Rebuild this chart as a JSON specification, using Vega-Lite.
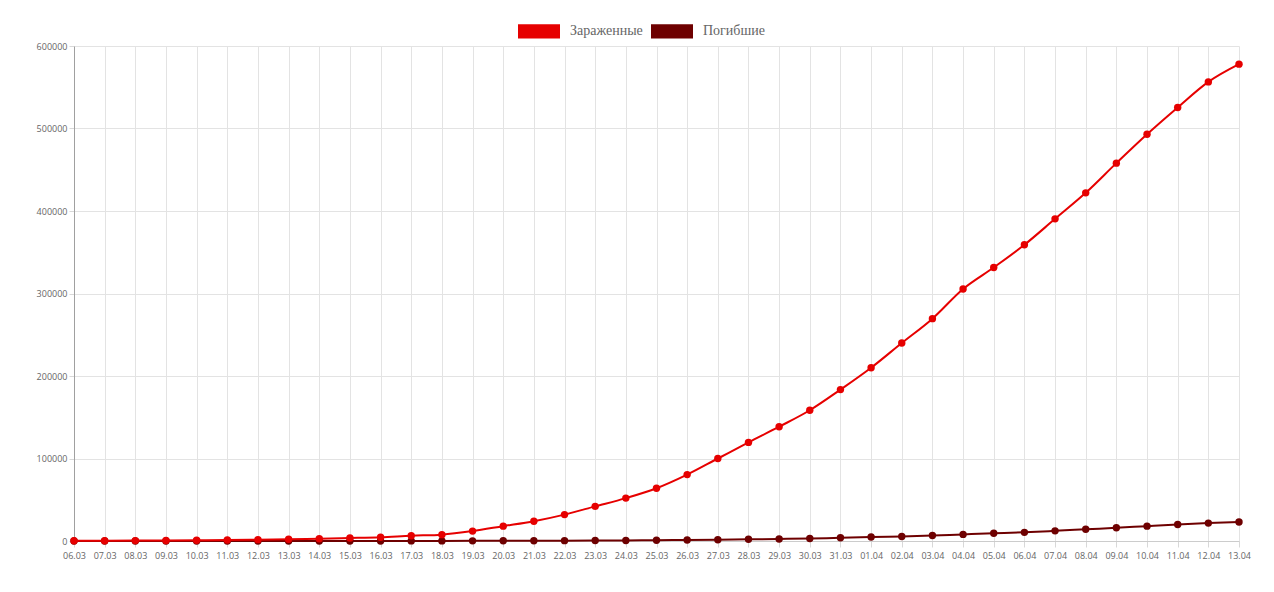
{
  "$schema": "https://vega.github.io/schema/vega-lite/v6.json",
  "width": 1165,
  "height": 495,
  "autosize": {"type": "none"},
  "padding": {"left": 74, "top": 46, "right": 35, "bottom": 51},
  "background": "white",
  "config": {
    "view": {"stroke": null},
    "axis": {
      "labelFont": "Open Sans",
      "labelFontSize": 9,
      "labelColor": "#666666",
      "gridColor": "#e3e3e3",
      "gridWidth": 1,
      "domainColor": "#a0a0a0",
      "tickColor": "#d8d8d8",
      "title": null
    }
  },
  "data": {
    "values": [
      {"date": "06.03", "inf": 250, "dead": 14},
      {"date": "07.03", "inf": 400, "dead": 17},
      {"date": "08.03", "inf": 500, "dead": 21},
      {"date": "09.03", "inf": 650, "dead": 22},
      {"date": "10.03", "inf": 950, "dead": 28},
      {"date": "11.03", "inf": 1250, "dead": 36},
      {"date": "12.03", "inf": 1650, "dead": 40},
      {"date": "13.03", "inf": 2200, "dead": 47},
      {"date": "14.03", "inf": 2750, "dead": 54},
      {"date": "15.03", "inf": 3600, "dead": 63},
      {"date": "16.03", "inf": 4600, "dead": 85},
      {"date": "17.03", "inf": 6400, "dead": 108},
      {"date": "18.03", "inf": 7700, "dead": 118},
      {"date": "19.03", "inf": 12000, "dead": 200},
      {"date": "20.03", "inf": 18000, "dead": 244},
      {"date": "21.03", "inf": 24000, "dead": 307},
      {"date": "22.03", "inf": 32000, "dead": 427},
      {"date": "23.03", "inf": 42000, "dead": 552},
      {"date": "24.03", "inf": 52000, "dead": 706},
      {"date": "25.03", "inf": 64000, "dead": 942},
      {"date": "26.03", "inf": 80500, "dead": 1209},
      {"date": "27.03", "inf": 100000, "dead": 1581},
      {"date": "28.03", "inf": 119500, "dead": 2026},
      {"date": "29.03", "inf": 138500, "dead": 2467},
      {"date": "30.03", "inf": 158500, "dead": 2978},
      {"date": "31.03", "inf": 183500, "dead": 3873},
      {"date": "01.04", "inf": 210000, "dead": 4757},
      {"date": "02.04", "inf": 240000, "dead": 5500},
      {"date": "03.04", "inf": 269500, "dead": 6600},
      {"date": "04.04", "inf": 305500, "dead": 8000},
      {"date": "05.04", "inf": 331500, "dead": 9300},
      {"date": "06.04", "inf": 359000, "dead": 10500},
      {"date": "07.04", "inf": 390500, "dead": 12300},
      {"date": "08.04", "inf": 422000, "dead": 14200},
      {"date": "09.04", "inf": 458000, "dead": 16000},
      {"date": "10.04", "inf": 493000, "dead": 18000},
      {"date": "11.04", "inf": 525500, "dead": 20000},
      {"date": "12.04", "inf": 556500, "dead": 21700},
      {"date": "13.04", "inf": 578000, "dead": 23000}
    ]
  },
  "transform": [
    {"fold": ["inf", "dead"], "as": ["key", "value"]},
    {"calculate": "datum.key === 'inf' ? 'Зараженные' : 'Погибшие'", "as": "series"}
  ],
  "encoding": {
    "x": {
      "field": "date",
      "type": "ordinal",
      "sort": null,
      "scale": {"type": "point", "padding": 0},
      "axis": {"labelAngle": 0, "grid": true, "tickSize": 6, "labelPadding": 4, "domainColor": "#cccccc"}
    },
    "y": {
      "field": "value",
      "type": "quantitative",
      "scale": {"domain": [0, 600000], "nice": false},
      "axis": {"values": [0, 100000, 200000, 300000, 400000, 500000, 600000], "format": "d", "tickSize": 5, "labelPadding": 2, "grid": true}
    },
    "color": {
      "field": "series",
      "type": "nominal",
      "scale": {"domain": ["Зараженные", "Погибшие"], "range": ["#e60000", "#6e0000"]},
      "legend": {
        "title": null,
        "orient": "none",
        "legendX": 444,
        "legendY": -36,
        "direction": "horizontal",
        "symbolType": "M-1,-0.34L1,-0.34L1,0.34L-1,0.34Z",
        "symbolSize": 1764,
        "symbolStrokeWidth": 0,
        "labelFont": "Liberation Serif",
        "labelFontSize": 14,
        "labelColor": "#666666",
        "columnPadding": 8,
        "labelOffset": 10
      }
    }
  },
  "layer": [
    {
      "transform": [{"filter": "datum.key === 'dead'"}],
      "mark": {"type": "line", "interpolate": "monotone", "strokeWidth": 2, "point": {"filled": true, "size": 55, "opacity": 1}}
    },
    {
      "transform": [{"filter": "datum.key === 'inf'"}],
      "mark": {"type": "line", "interpolate": "monotone", "strokeWidth": 2, "point": {"filled": true, "size": 55, "opacity": 1}}
    }
  ]
}
